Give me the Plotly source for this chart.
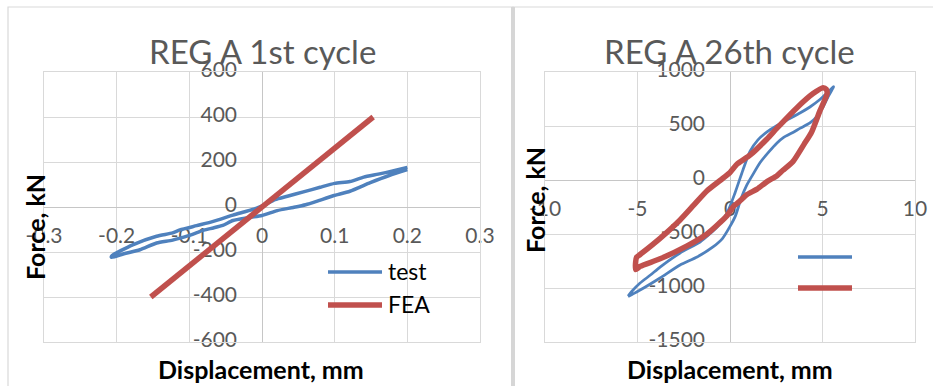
import plotly.graph_objects as go

# ---------------- data ----------------
# REG A, 1st cycle: measured loop (upper branch right->left, then lower branch left->right)
c1_test_disp = [0.200, 0.180, 0.160, 0.140, 0.121, 0.100, 0.080, 0.057, 0.035, 0.018, 0.005,
                -0.010, -0.025, -0.040, -0.067, -0.090, -0.113, -0.123, -0.145, -0.178, -0.207,
                -0.207, -0.190, -0.168, -0.145, -0.123, -0.100, -0.080, -0.067, -0.054, -0.040,
                -0.020, 0.000, 0.021, 0.043, 0.060, 0.075, 0.098, 0.121, 0.149, 0.175, 0.200]
c1_test_force = [176, 160, 146, 133, 113, 105, 88, 67, 48, 33, 12,
                 -8, -22, -36, -64, -83, -102, -115, -130, -168, -218,
                 -224, -208, -190, -160, -147, -126, -103, -93, -82, -60,
                 -48, -38, -16, -2, 10, 25, 50, 70, 108, 140, 166]
# REG A, 1st cycle: FEA response
c1_fea_disp = [-0.153, 0.0, 0.153]
c1_fea_force = [-400, 0, 400]

# REG A, 26th cycle: measured loop
c26_test_disp = [-5.51, -5.30, -4.86, -4.30, -3.78, -2.70, -1.62, -1.10, -0.70, -0.16, 0.27, 0.70,
                 1.08, 1.50, 2.00, 2.50, 3.08, 3.78, 4.32, 4.86, 5.41, 5.60,
                 5.57, 5.30, 5.03, 4.70, 4.32, 3.80, 3.40, 2.90, 2.54, 2.10, 1.62, 1.20, 0.90,
                 0.60, 0.30, 0.00, -0.40, -0.92, -1.78, -2.70, -3.78, -4.86, -5.30, -5.51]
c26_test_force = [-1075, -1030, -954, -880, -806, -676, -574, -500, -435, -306, -120, 93,
                  265, 370, 445, 500, 556, 620, 676, 745, 833, 865,
                  852, 770, 676, 590, 528, 480, 440, 395, 343, 260, 160, 40, -50,
                  -170, -330, -430, -540, -620, -713, -787, -907, -1019, -1060, -1080]
# REG A, 26th cycle: FEA loop
c26_fea_disp = [-5.05, -4.86, -3.78, -2.70, -1.95, -1.24, -0.50, 0.00, 0.40, 1.08, 2.00, 2.54,
                3.62, 4.49, 5.03, 5.20, 5.25, 4.86, 4.40, 4.00, 3.40, 2.86, 2.54, 2.00, 1.46,
                0.92, 0.50, 0.16, -0.16, -1.24, -2.32, -3.78, -4.86, -5.10, -5.10, -5.05]
c26_fea_force = [-715, -690, -540, -370, -231, -100, 0, 70, 150, 230, 380, 480,
                 670, 800, 855, 840, 800, 640, 440, 330, 170, 90, 40, -15, -85,
                 -135, -200, -250, -330, -500, -610, -730, -800, -830, -760, -715]

# tick values / labels
c1_xticks = [-0.3, -0.2, -0.1, 0, 0.1, 0.2, 0.3]
c1_xlabels = ["-0.3", "-0.2", "-0.1", "0", "0.1", "0.2", "0.3"]
c1_yticks = [600, 400, 200, 0, -200, -400, -600]
c1_ylabels = ["600", "400", "200", "0", "-200", "-400", "-600"]
c26_xticks = [-10, -5, 0, 5, 10]
c26_xlabels = ["-10", "-5", "0", "5", "10"]
c26_yticks = [1000, 500, 0, -500, -1000, -1500]
c26_ylabels = ["1000", "500", "0", "-500", "-1000", "-1500"]

# ---------------- layout helpers ----------------
W, H = 933, 386
BLUE, RED = "#4f81bd", "#c0504d"
GRID = "#d9d9d9"
FONT = "Lato"
TICK_SIZE = 21


def fx(p):
    return p / W


def fy(p):
    return 1 - p / H


# plot-area boxes in pixels: (left, right, top, bottom)
BOX1 = (44, 480, 72, 342)
BOX2 = (545, 915, 72, 342)
R1 = ([-0.3, 0.3], [-600, 600])
R2 = ([-10, 10], [-1500, 1000])

fig = go.Figure()


def tick_traces(box, rng, xa, ya, xt, xl, yt, yl):
    l, r, t, b = box
    ux = (rng[0][1] - rng[0][0]) / (r - l)   # data units per px
    uy = (rng[1][1] - rng[1][0]) / (b - t)
    # x labels sit 31 px below the horizontal axis (y = 0)
    fig.add_trace(go.Scatter(
        x=xt, y=[-31 * uy] * len(xt), text=xl, mode="text",
        textposition="middle center", cliponaxis=False, hoverinfo="skip",
        textfont=dict(family=FONT, size=TICK_SIZE, color="#595959"),
        xaxis=xa, yaxis=ya, showlegend=False))
    # y labels end about 23 px left of the vertical axis (x = 0)
    fig.add_trace(go.Scatter(
        x=[-25 * ux] * len(yt), y=yt, text=yl, mode="text",
        textposition="middle left", cliponaxis=False, hoverinfo="skip",
        textfont=dict(family=FONT, size=TICK_SIZE, color="#595959"),
        xaxis=xa, yaxis=ya, showlegend=False))


tick_traces(BOX1, R1, "x", "y", c1_xticks, c1_xlabels, c1_yticks, c1_ylabels)
tick_traces(BOX2, R2, "x2", "y2", c26_xticks, c26_xlabels, c26_yticks, c26_ylabels)

line_kw = dict(mode="lines", hoverinfo="skip", showlegend=False)
fig.add_trace(go.Scatter(x=c1_test_disp, y=c1_test_force, name="test",
                         line=dict(color=BLUE, width=3.5, shape="spline", smoothing=0.6),
                         xaxis="x", yaxis="y", **line_kw))
fig.add_trace(go.Scatter(x=c1_fea_disp, y=c1_fea_force, name="FEA",
                         line=dict(color=RED, width=5.5),
                         xaxis="x", yaxis="y", **line_kw))
fig.add_trace(go.Scatter(x=c26_test_disp, y=c26_test_force, name="",
                         line=dict(color=BLUE, width=2.75, shape="spline", smoothing=0.6),
                         xaxis="x2", yaxis="y2", **line_kw))
fig.add_trace(go.Scatter(x=c26_fea_disp, y=c26_fea_force, name="",
                         line=dict(color=RED, width=5.5, shape="spline", smoothing=0.6),
                         xaxis="x2", yaxis="y2", **line_kw))


def axis(box, rng, dt, horizontal):
    l, r, t, b = box
    dom = [fx(l), fx(r)] if horizontal else [fy(b), fy(t)]
    return dict(domain=dom, range=rng, dtick=dt, tick0=0, showticklabels=False,
                ticks="", showgrid=True, gridcolor=GRID, gridwidth=1,
                zeroline=True, zerolinecolor="#c6c6c6", zerolinewidth=1.3,
                showline=True, mirror=True, linecolor=GRID, linewidth=1,
                fixedrange=True)


layout = dict(
    width=W, height=H, margin=dict(l=0, r=0, t=0, b=0),
    paper_bgcolor="white", plot_bgcolor="white", showlegend=False,
    xaxis=axis(BOX1, R1[0], 0.1, True),
    yaxis=axis(BOX1, R1[1], 200, False),
    xaxis2=dict(axis(BOX2, R2[0], 5, True), anchor="y2"),
    yaxis2=dict(axis(BOX2, R2[1], 500, False), anchor="x2"),
)
fig.update_layout(**layout)

# chart frames
shapes = [
    dict(type="rect", xref="paper", yref="paper", x0=fx(8), x1=fx(513), y0=fy(400), y1=fy(7),
         line=dict(color=GRID, width=1.2), layer="below"),
    dict(type="rect", xref="paper", yref="paper", x0=fx(513), x1=fx(950), y0=fy(400), y1=fy(7),
         line=dict(color=GRID, width=1.2), layer="below"),
    dict(type="line", xref="paper", yref="paper", x0=fx(513), x1=fx(513), y0=fy(400), y1=fy(7),
         line=dict(color="#d6d6d6", width=4)),
]
# legend samples
for (x0, x1, y, c, w) in [(328, 382, 272, BLUE, 3.5), (328, 382, 305, RED, 5.5),
                          (798, 852, 257, BLUE, 3.5), (798, 852, 288, RED, 5.5)]:
    shapes.append(dict(type="line", xref="paper", yref="paper", x0=fx(x0), x1=fx(x1),
                       y0=fy(y), y1=fy(y), line=dict(color=c, width=w)))
fig.update_layout(shapes=shapes)

ann = []


def text(x, y, s, size, color, bold=False, angle=0, xanchor="center"):
    ann.append(dict(xref="paper", yref="paper", x=fx(x), y=fy(y), text=f"<b>{s}</b>" if bold else s,
                    showarrow=False, xanchor=xanchor, yanchor="middle", textangle=angle,
                    font=dict(family=FONT, size=size, color=color)))


text(262, 51, "REG A 1st cycle", 33, "#595959")
text(729, 51, "REG A 26th cycle", 33, "#595959")
text(261, 369, "Displacement, mm", 25, "#000000", bold=True)
text(730, 369, "Displacement, mm", 25, "#000000", bold=True)
text(35, 227, "Force, kN", 25, "#000000", bold=True, angle=-90)
text(535, 200, "Force, kN", 25, "#000000", bold=True, angle=-90)
text(386, 271, "test", 23, "#000000", xanchor="left")
text(386, 304, "FEA", 23, "#000000", xanchor="left")
fig.update_layout(annotations=ann)

fig.write_html("out.html")
